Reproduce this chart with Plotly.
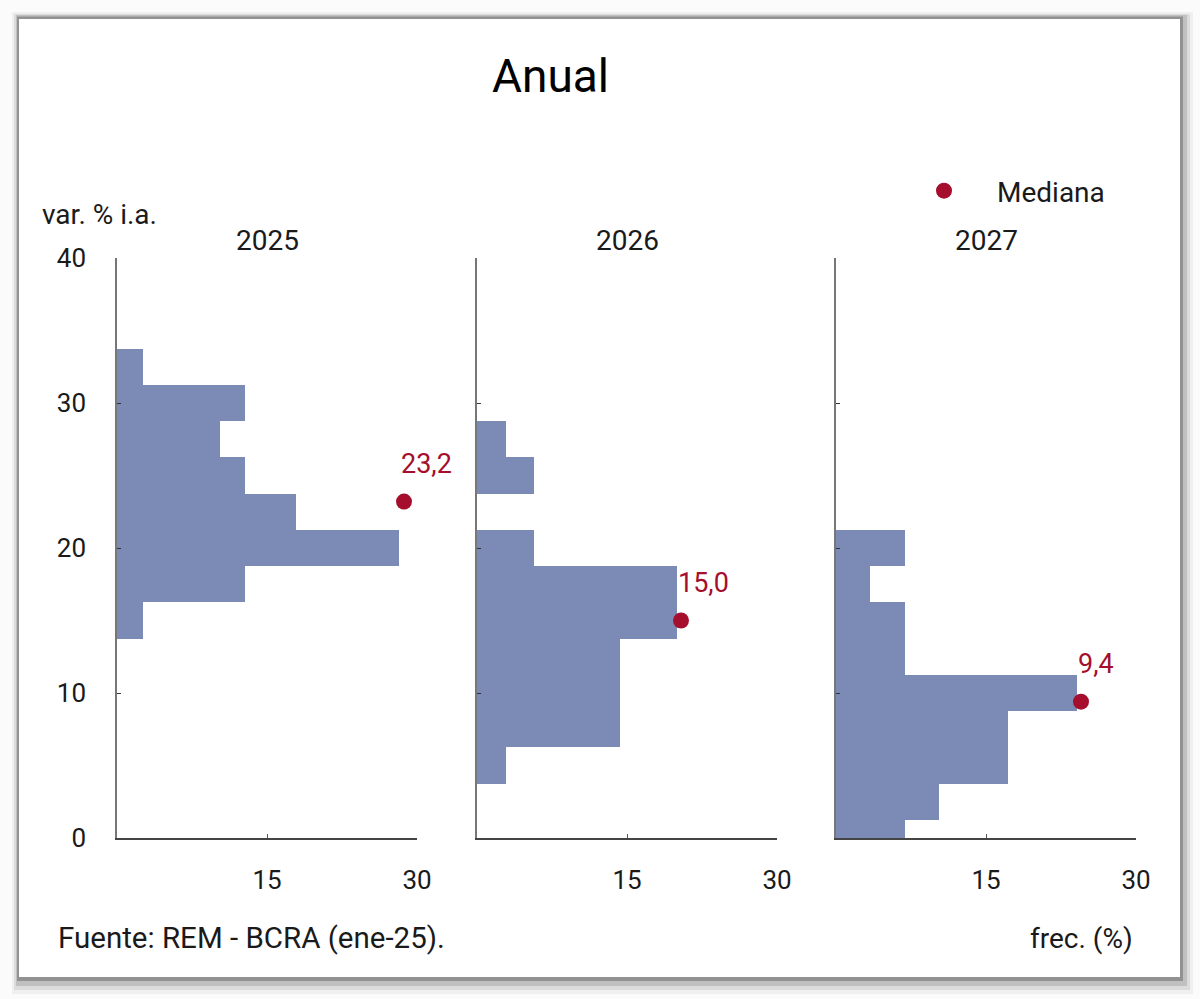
import plotly.graph_objects as go

# ---------------- data ----------------
years = ["2025", "2026", "2027"]
bin_width = 2.5

centers_2025 = [15.0, 17.5, 20.0, 22.5, 25.0, 27.5, 30.0, 32.5]
freq_2025 = [2.6, 12.8, 28.2, 17.9, 12.8, 10.3, 12.8, 2.6]

centers_2026 = [5.0, 7.5, 10.0, 12.5, 15.0, 17.5, 20.0, 22.5, 25.0, 27.5]
freq_2026 = [2.9, 14.3, 14.3, 14.3, 20.0, 20.0, 5.7, 0.0, 5.7, 2.9]

centers_2027 = [0.0, 2.5, 5.0, 7.5, 10.0, 12.5, 15.0, 17.5, 20.0]
freq_2027 = [6.9, 10.3, 17.2, 17.2, 24.1, 6.9, 6.9, 3.4, 6.9]

median_values = [23.2, 15.0, 9.4]
median_xpos = [28.7, 20.4, 24.5]
median_labels = ["23,2", "15,0", "9,4"]

y_ticks = [0, 10, 20, 30, 40]
x_ticks = [15, 30]
x_ticklabels = ["15", "30"]

# ---------------- style ----------------
W, H = 1200, 999
BAR = "#7b8bb6"
RED = "#a50f2d"
TXT = "#1a1a1a"
FONT = "Roboto"
SMALL = 28


def px(x):
    return x / W


def py(y):
    return 1 - y / H


panels = [
    (centers_2025, freq_2025),
    (centers_2026, freq_2026),
    (centers_2027, freq_2027),
]
x_pix = [(117, 417), (477, 777), (836, 1136)]
y_dom = [py(838), py(258)]

fig = go.Figure()

for i, (cent, freq) in enumerate(panels):
    ax = "" if i == 0 else str(i + 1)
    fig.add_trace(go.Bar(
        y=cent, x=freq, orientation="h", width=bin_width,
        marker=dict(color=BAR, line=dict(width=0)),
        xaxis="x" + ax, yaxis="y" + ax, showlegend=False,
        hoverinfo="skip",
    ))
    fig.add_trace(go.Scatter(
        x=[median_xpos[i]], y=[median_values[i]], mode="markers",
        marker=dict(color=RED, size=16),
        xaxis="x" + ax, yaxis="y" + ax,
        name="Mediana", showlegend=(i == 0), cliponaxis=False,
    ))
    fig.add_annotation(
        x=median_xpos[i], y=median_values[i], xref="x" + ax, yref="y" + ax,
        text=median_labels[i], showarrow=False, xanchor="left", yanchor="middle",
        xshift=-5, yshift=38, font=dict(family=FONT, size=27, color=RED),
    )
    x0, x1 = x_pix[i]
    fig.update_layout(**{
        "xaxis" + ax: dict(
            domain=[px(x0), px(x1)], range=[0, 30], tickvals=x_ticks,
            ticktext=x_ticklabels, ticks="inside", ticklen=4, tickwidth=1,
            tickcolor="#555", showline=True, linecolor="#444", linewidth=2,
            showgrid=False, zeroline=False, anchor="y" + ax,
            tickfont=dict(family=FONT, size=26, color=TXT),
            ticklabelstandoff=18, fixedrange=True,
        ),
        "yaxis" + ax: dict(
            domain=y_dom, range=[0, 40], tickvals=y_ticks, ticks="inside",
            ticklen=4, tickwidth=1, tickcolor="#333", showline=True,
            linecolor="#777", linewidth=1.5, showgrid=False, zeroline=False,
            showticklabels=(i == 0), anchor="x" + ax,
            tickfont=dict(family=FONT, size=26, color=TXT),
            ticklabelstandoff=24, fixedrange=True,
        ),
    })
    fig.add_annotation(
        x=px((x0 + x1) / 2), y=py(240), xref="paper", yref="paper",
        text=years[i], showarrow=False, xanchor="center", yanchor="middle",
        font=dict(family=FONT, size=SMALL, color=TXT),
    )

# frame with shadow
shapes = [
    dict(type="rect", xref="paper", yref="paper", x0=px(12), x1=px(1193),
         y0=py(994), y1=py(12), fillcolor="#f0f0f0", line=dict(width=0), layer="below"),
    dict(type="rect", xref="paper", yref="paper", x0=px(14), x1=px(1190),
         y0=py(990), y1=py(14), fillcolor="#dcdcdc", line=dict(width=0), layer="below"),
    dict(type="rect", xref="paper", yref="paper", x0=px(16), x1=px(1187),
         y0=py(986), y1=py(15), fillcolor="#c0c0c0", line=dict(width=0), layer="below"),
    dict(type="rect", xref="paper", yref="paper", x0=px(17), x1=px(1183),
         y0=py(981), y1=py(16.5), fillcolor="#929292", line=dict(width=0), layer="below"),
    dict(type="rect", xref="paper", yref="paper", x0=px(19), x1=px(1180),
         y0=py(977), y1=py(19), fillcolor="white", line=dict(width=0), layer="below"),
]

annotations_extra = [
    dict(x=px(550), y=py(76), text="Anual", font=dict(family=FONT, size=46, color="#000"),
         xanchor="center", yanchor="middle"),
    dict(x=px(40), y=py(214), text="var. % i.a.", font=dict(family=FONT, size=SMALL, color=TXT),
         xanchor="left", yanchor="middle"),
    dict(x=px(56), y=py(938), text="Fuente: REM - BCRA (ene-25).",
         font=dict(family=FONT, size=29.5, color=TXT), xanchor="left", yanchor="middle"),
    dict(x=px(1135), y=py(938), text="frec. (%)", font=dict(family=FONT, size=SMALL, color=TXT),
         xanchor="right", yanchor="middle"),
]
for a in annotations_extra:
    fig.add_annotation(xref="paper", yref="paper", showarrow=False, **a)

fig.update_layout(
    width=W, height=H,
    margin=dict(l=0, r=0, t=0, b=0, autoexpand=False),
    paper_bgcolor="#fbfbfb", plot_bgcolor="rgba(0,0,0,0)",
    bargap=0, barmode="overlay",
    shapes=shapes,
    showlegend=True,
    legend=dict(x=px(891), y=py(191), xanchor="left", yanchor="middle",
                bgcolor="rgba(0,0,0,0)", font=dict(family=FONT, size=SMALL, color=TXT),
                itemwidth=96),
    font=dict(family=FONT),
)

fig.write_html("out.html")
